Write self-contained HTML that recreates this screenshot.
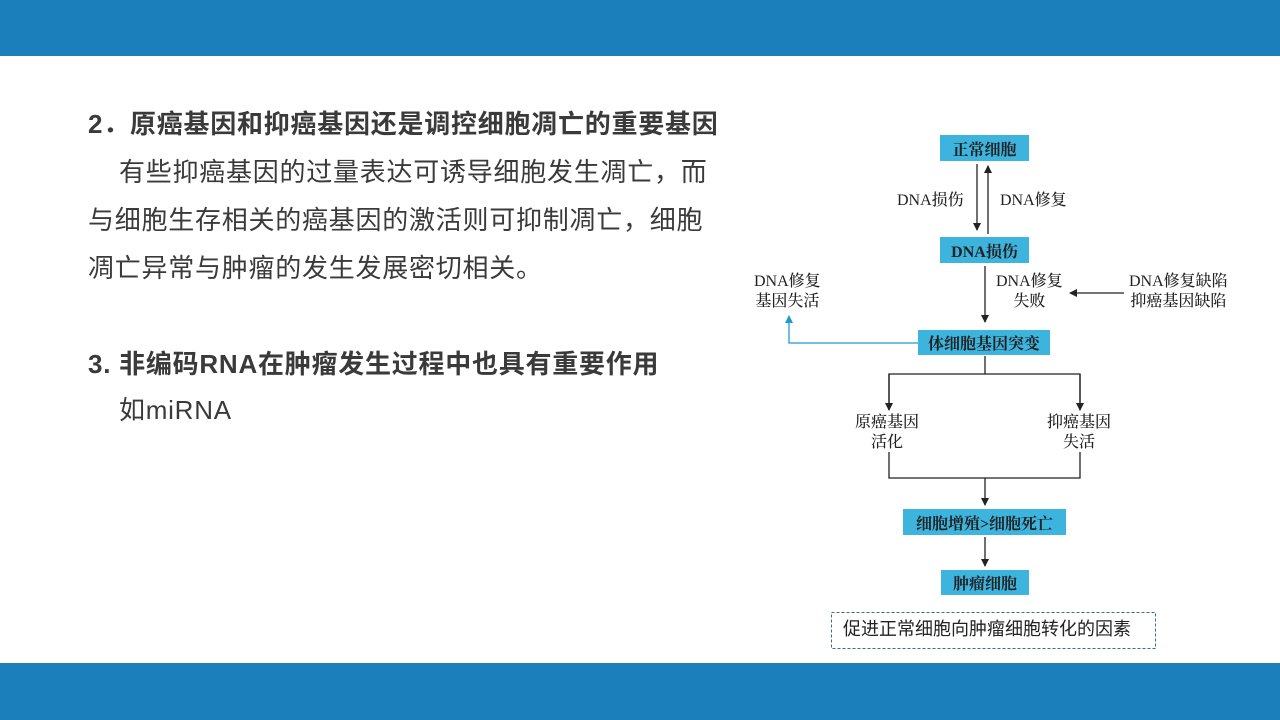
<!DOCTYPE html>
<html><head><meta charset="utf-8"><style>
body{margin:0;width:1280px;height:720px;position:relative;background:#fff;overflow:hidden;font-family:"Liberation Sans","Noto Sans CJK SC",sans-serif;color:#3a3a3a}
.bar{position:absolute;left:0;width:1280px;background:#1a7fbb}
.t{position:absolute;white-space:nowrap;font-size:26px;line-height:30px;letter-spacing:0.75px}
.b{font-weight:bold}
.box{position:absolute;background:#3db4de;font-family:"Liberation Serif","Noto Serif CJK SC",serif;font-weight:bold;font-size:16px;color:#222;text-align:center;display:flex;align-items:center;justify-content:center}
.l{position:absolute;font-family:"Liberation Serif","Noto Serif CJK SC",serif;font-size:16px;line-height:20px;color:#222;text-align:center;white-space:nowrap;font-weight:500}
</style></head><body>
<div class="bar" style="top:0;height:56px"></div>
<div class="bar" style="top:663px;height:57px"></div>
<div class="t b" style="left:88px;top:109px">2．原癌基因和抑癌基因还是调控细胞凋亡的重要基因</div>
<div class="t" style="left:119px;top:157px">有些抑癌基因的过量表达可诱导细胞发生凋亡，而</div>
<div class="t" style="left:88px;top:205px">与细胞生存相关的癌基因的激活则可抑制凋亡，细胞</div>
<div class="t" style="left:88px;top:253px">凋亡异常与肿瘤的发生发展密切相关。</div>
<div class="t b" style="left:88px;top:349px">3. 非编码RNA在肿瘤发生过程中也具有重要作用</div>
<div class="t" style="left:119px;top:395px">如miRNA</div>

<svg style="position:absolute;left:0;top:0" width="1280" height="720">
<defs><marker id="a" markerWidth="8" markerHeight="8" refX="7" refY="4" orient="auto" markerUnits="userSpaceOnUse"><path d="M0,0L8,4L0,8z" fill="#222"/></marker>
<marker id="c" markerWidth="8" markerHeight="8" refX="7" refY="4" orient="auto" markerUnits="userSpaceOnUse"><path d="M0,0L8,4L0,8z" fill="#1d9ad6"/></marker></defs>
<g stroke="#222" stroke-width="1.3" fill="none">
<line x1="977" y1="164" x2="977" y2="230" marker-end="url(#a)"/>
<line x1="988" y1="234" x2="988" y2="166" marker-end="url(#a)"/>
<line x1="985" y1="266" x2="985" y2="322" marker-end="url(#a)"/>
<line x1="1124" y1="293" x2="1070" y2="293" marker-end="url(#a)"/>
<line x1="985" y1="356" x2="985" y2="374"/>
<polyline points="889,410 889,374 1080,374 1080,410"/>
<line x1="889" y1="374" x2="889" y2="410" marker-end="url(#a)"/>
<line x1="1080" y1="374" x2="1080" y2="410" marker-end="url(#a)"/>
<polyline points="889,452 889,478 1080,478 1080,452"/>
<line x1="985" y1="478" x2="985" y2="505" marker-end="url(#a)"/>
<line x1="985" y1="537" x2="985" y2="566" marker-end="url(#a)"/>
</g>
<polyline points="918,343 789,343 789,316" stroke="#1d9ad6" stroke-width="1.3" fill="none" marker-end="url(#c)"/>
<rect x="831.5" y="612.5" width="324" height="36" fill="none" stroke="#3a6f8a" stroke-dasharray="3,2"/>
</svg>
<div class="box" style="left:940px;top:135px;width:89px;height:26px">正常细胞</div>
<div class="box" style="left:940px;top:237px;width:89px;height:26px">DNA损伤</div>
<div class="box" style="left:918px;top:330px;width:132px;height:25px">体细胞基因突变</div>
<div class="box" style="left:903px;top:509px;width:163px;height:26px">细胞增殖&gt;细胞死亡</div>
<div class="box" style="left:941px;top:570px;width:88px;height:25px">肿瘤细胞</div>
<div class="l" style="left:897px;top:191px">DNA损伤</div>
<div class="l" style="left:1000px;top:191px">DNA修复</div>
<div class="l" style="left:754px;top:272px">DNA修复<br>基因失活</div>
<div class="l" style="left:996px;top:272px">DNA修复<br>失败</div>
<div class="l" style="left:1129px;top:272px">DNA修复缺陷<br>抑癌基因缺陷</div>
<div class="l" style="left:855px;top:413px">原癌基因<br>活化</div>
<div class="l" style="left:1047px;top:413px">抑癌基因<br>失活</div>
<div class="t" style="left:843px;top:617px;font-size:18px;line-height:24px;color:#222;letter-spacing:0">促进正常细胞向肿瘤细胞转化的因素</div>
</body></html>
